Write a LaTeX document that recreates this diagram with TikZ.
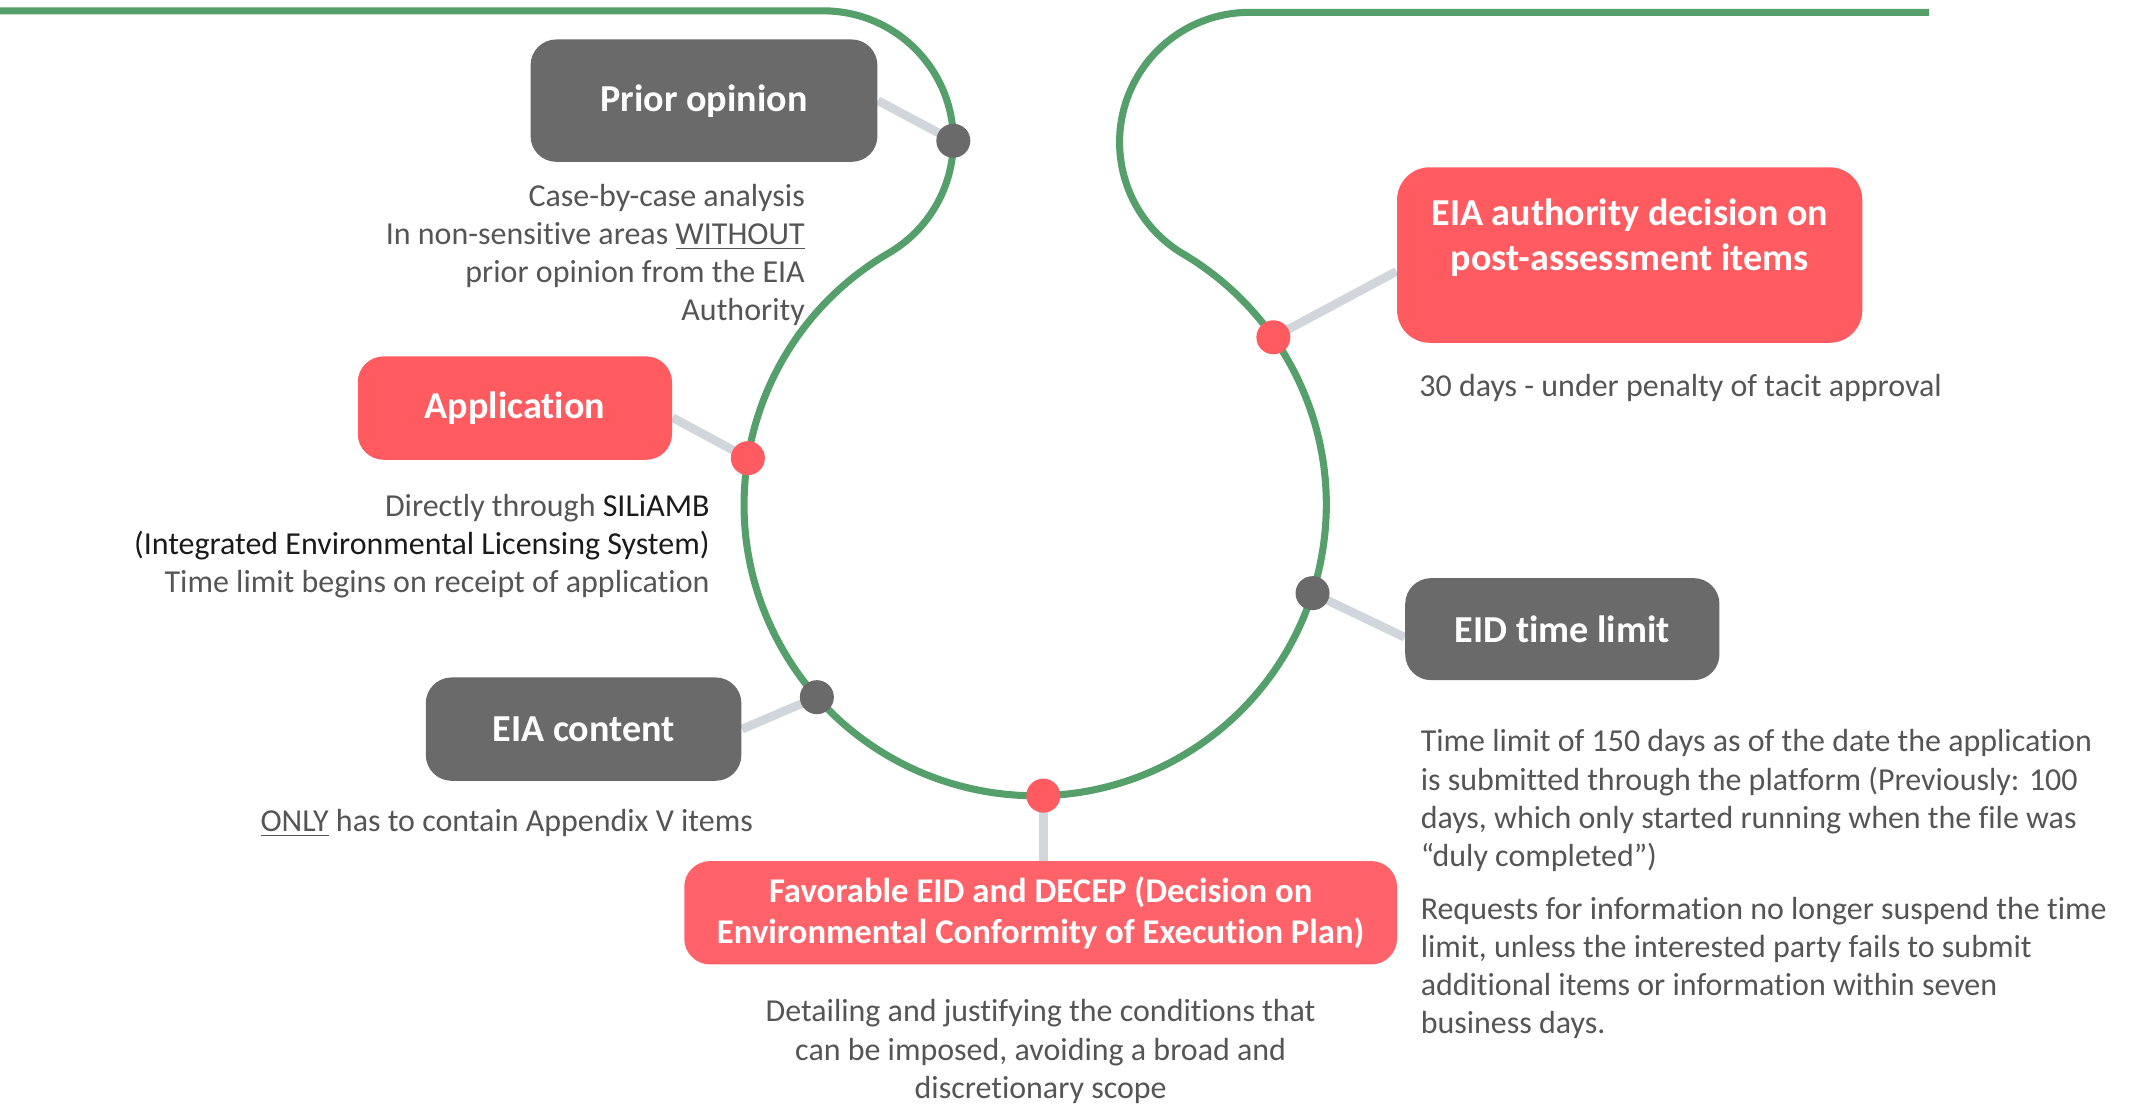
\documentclass[tikz,border=0pt]{standalone}
\usepackage{fontspec}
\setmainfont{Carlito}[Ligatures=NoCommon]
\usetikzlibrary{calc}
\definecolor{pathgreen}{HTML}{559F6B}
\definecolor{boxred}{HTML}{FF5B60}
\definecolor{favred}{HTML}{FF6369}
\definecolor{boxgray}{HTML}{6A6A6A}
\definecolor{connc}{HTML}{D0D6DC}
\definecolor{txtgray}{HTML}{555555}
\definecolor{txtdark}{HTML}{1A1A1A}
\pgfdeclarelayer{background}
\pgfsetlayers{background,main}
\begin{document}
\begin{tikzpicture}[x=0.5pt,y=0.5pt,
  track/.style={draw=pathgreen, line width=2.6pt},
  conn/.style={draw=connc, line width=3.2pt},
  box/.style={rounded corners=9.5pt, inner sep=0pt, text=white, font=\fontsize{14}{17}\selectfont\bfseries, align=center},
  redbox/.style={box, fill=boxred},
  graybox/.style={box, fill=boxgray},
  dot/.style={circle, inner sep=0pt, minimum size=12.5pt},
  reddot/.style={dot, fill=boxred},
  graydot/.style={dot, fill=boxgray},
  desc/.style={text=txtgray, font=\fontsize{11.75}{14}\selectfont, inner sep=0pt}
]
\useasboundingbox (0,0) rectangle (1568,812);
\coordinate (C) at (761,441);
\coordinate (L) at (605.3,708.5);

% boxes
\node[graybox, minimum width=127.5pt, minimum height=45pt] (po) at (517.5,738) {Prior opinion};
\node[redbox, minimum width=115.5pt, minimum height=38pt] (app) at (378.5,512) {Application};
\node[graybox, minimum width=116pt, minimum height=38pt] (eia) at (429,276) {EIA content};
\node[redbox, fill=favred, minimum width=262pt, minimum height=38pt, font=\fontsize{12.75}{15}\selectfont\bfseries] (fav) at (765,141) {Favorable EID and DECEP (Decision on\\Environmental Conformity of Execution Plan)};
\node[graybox, minimum width=115.5pt, minimum height=37.5pt] (eid) at (1148.5,349.5) {EID time limit};
\node[redbox, rounded corners=12pt, minimum width=171pt, minimum height=64.5pt] (auth) at (1198,624.5) {};
\node[box, font=\fontsize{14}{16.5}\selectfont\bfseries] (authT) at (1198,637.5) {EIA authority decision on\\post-assessment items};

% dots
\node[graydot] (d1) at ($(L)+(0:95.5)$) {};
\node[reddot] (d2) at ($(C)+(170.8:214)$) {};
\node[graydot] (d3) at ($(C)+(221.4:214)$) {};
\node[reddot] (d4) at ($(C)+(271.6:214)$) {};
\node[graydot] (d5) at ($(C)+(342.3:214)$) {};
\node[reddot] (d6) at ($(C)+(35.1:214)$) {};

\begin{pgfonlayer}{background}
\draw[track] (0,804) -- (605.3,804)
  arc[start angle=90, end angle=-59.8, radius=95.5]
  arc[start angle=120.2, end angle=419.4, radius=214]
  arc[start angle=239.4, end angle=90, radius=95.5] -- ++(499.5,0);
\draw[conn] (d1.center) -- (po.east);
\draw[conn] (d2.center) -- ($(app.east)+(0,-7)$);
\draw[conn] (d3.center) -- (eia.east);
\draw[conn] (d4.center) -- (d4 |- fav.north);
\draw[conn] (d5.center) -- ($(eid.west)+(0,-6)$);
\draw[conn] (d6.center) -- ($(auth.west)+(0,-12)$);
\end{pgfonlayer}

% descriptions
\node[desc, anchor=east, align=right] (poD) at (592,624.5) {Case-by-case analysis\\In non-sensitive areas \underline{WITHOUT}\\prior opinion from the EIA\\Authority};
\node[desc, anchor=east, align=right] (appD) at (522,410.5) {Directly through {\color{txtdark}SILiAMB}\\{\color{txtdark}(Integrated Environmental Licensing System)}\\Time limit begins on receipt of application};
\node[desc] (eiaD) at (372.5,207) {\underline{ONLY} has to contain Appendix V items};
\node[desc, align=center] (favD) at (765,39) {Detailing and justifying the conditions that\\can be imposed, avoiding a broad and\\discretionary scope};
\node[desc, anchor=west] (authD) at (1043,527) {30 days - under penalty of tacit approval};
\node[desc, anchor=west, align=left] (eidD) at (1044,162) {Time limit of 150 days as of the date the application\\is submitted through the platform (Previously: 100\\days, which only started running when the file was\\“duly completed”)\\[5.5pt]Requests for information no longer suspend the time\\limit, unless the interested party fails to submit\\additional items or information within seven\\business days.};
\end{tikzpicture}
\end{document}
